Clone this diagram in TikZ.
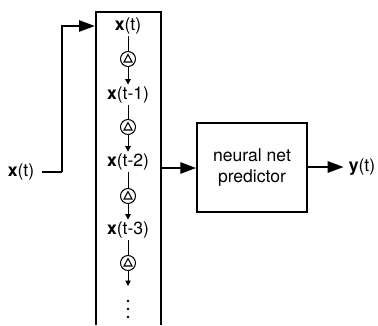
\documentclass[tikz,border=0pt]{standalone}
\usepackage{fontspec}
\setmainfont{TeX Gyre Heros}
\usetikzlibrary{arrows.meta, calc}
\tikzset{
  heavy/.style={line width=1.5pt, -{Triangle[length=3.2mm,width=2.2mm]}},
  tap/.style={font=\normalsize, inner sep=1pt},
  delay/.style={draw, circle, minimum size=3mm, inner sep=0pt, line width=0.6pt},
  thinarrow/.style={line width=0.45pt, -{Triangle[length=1.1mm,width=1.1mm]}}
}

\begin{document}
\begin{tikzpicture}[x=0.02cm, y=-0.02cm]
  \useasboundingbox (0,0) rectangle (378,325);
  % tapped delay line, open at the bottom
  \draw[line width=0.8pt] (96,325) -- (96,12) -- (161,12) -- (161,325);
  \node[tap] (xt)  at (128,26)  {\textbf{x}(t)};
  \node[tap] (xt1) at (128,95)  {\textbf{x}(t-1)};
  \node[tap] (xt2) at (128,162) {\textbf{x}(t-2)};
  \node[tap] (xt3) at (128,230) {\textbf{x}(t-3)};
  \node[delay] (d1) at (128,59)  {};
  \node[delay] (d2) at (128,127) {};
  \node[delay] (d3) at (128,196) {};
  \node[delay] (d4) at (128,263) {};
  \foreach \d in {d1,d2,d3,d4}
    \draw[line width=0.6pt] ($(\d)+(-4,3)$) -- ($(\d)+(4,3)$) -- ($(\d)+(0,-4.5)$) -- cycle;
  \coordinate (tail) at (128,286);
  \draw[line width=0.45pt] (xt) -- (d1);
  \draw[thinarrow] (d1) -- (xt1);
  \draw[line width=0.45pt] (xt1) -- (d2);
  \draw[thinarrow] (d2) -- (xt2);
  \draw[line width=0.45pt] (xt2) -- (d3);
  \draw[thinarrow] (d3) -- (xt3);
  \draw[line width=0.45pt] (xt3) -- (d4);
  \draw[thinarrow] (d4) -- (tail);
  \foreach \y in {301,309,317}
    \fill (128,\y) circle (1.4);
  % input
  \node[tap] (xin) at (21,172) {\textbf{x}(t)};
  \coordinate (bend) at (62,172);
  \coordinate (boxin) at (95,26);
  \draw[heavy, -] ($(xin.east)+(6,0)$) -- (bend);
  \draw[heavy] (bend) |- (boxin);
  % predictor
  \node[draw, line width=0.8pt, minimum width=2.2cm, minimum height=1.78cm,
        align=center, font=\normalsize] (pred) at (252,167.5) {neural net\\predictor};
  \coordinate (boxout) at (161,168);
  \draw[heavy] (boxout) -- (pred.west |- boxout);
  \node[tap] (yout) at (362,167) {\textbf{y}(t)};
  \draw[heavy] (pred.east |- yout) -- ($(yout.west)+(-3,0)$);
\end{tikzpicture}
\end{document}
